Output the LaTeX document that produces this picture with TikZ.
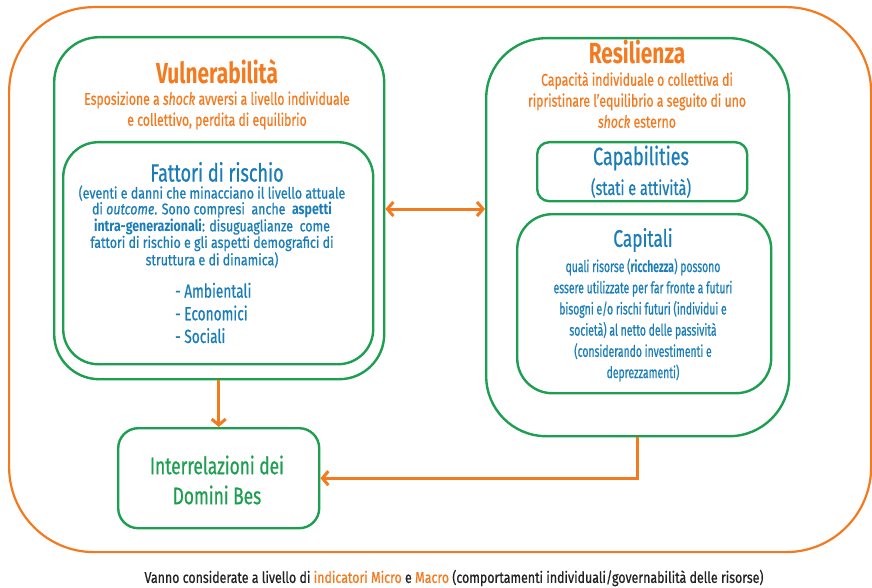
\documentclass[tikz,border=0pt]{standalone}
\usepackage{fontspec}
\setmainfont{Fira Sans}[FakeStretch=0.72, UprightFeatures={FakeBold=0.7}, ItalicFeatures={FakeBold=0.7}]
\newfontfamily\wfont{Fira Sans}[FakeStretch=0.8, UprightFeatures={FakeBold=0.7}, ItalicFeatures={FakeBold=0.7}]
\newfontfamily\nfont{Fira Sans}[FakeStretch=0.65, UprightFeatures={FakeBold=0.7}, ItalicFeatures={FakeBold=0.7}]
\usetikzlibrary{arrows.meta}
\definecolor{bor}{HTML}{F47A20}
\definecolor{bgr}{HTML}{1E9E50}
\definecolor{bbl}{HTML}{1A7DB8}
\definecolor{ftx}{HTML}{222222}
\begin{document}
\begin{tikzpicture}[x=1pt,y=-1pt,
  gbox/.style={draw=bgr, line width=2.4pt, inner sep=0pt, anchor=north west},
  obox/.style={draw=bor, line width=2.2pt, inner sep=0pt, anchor=north west},
  arr/.style={draw=bor, line width=3pt, -{Straight Barb[length=6pt,width=14pt]}},
  darr/.style={draw=bor, line width=3pt, {Straight Barb[length=6pt,width=14pt]}-{Straight Barb[length=6pt,width=14pt]}},
  txt/.style={inner sep=0pt, align=center},
  bigtitle/.style={txt, text=bor, font=\bfseries\fontsize{29}{30}\selectfont},
  osub/.style={txt, text=bor, font=\fontsize{17}{21}\selectfont},
  btitle/.style={txt, text=bbl, font=\fontsize{25}{27}\selectfont},
  btext/.style={txt, text=bbl, font=\wfont\fontsize{15.5}{14.3}\selectfont},
  ctext/.style={txt, text=bbl, font=\nfont\fontsize{16}{21.2}\selectfont},
]
\useasboundingbox (0,0) rectangle (872,588);
% boxes
\node[obox, rounded corners=85pt, minimum width=862pt, minimum height=545pt] (outer) at (8,6) {};
\node[gbox, rounded corners=45pt, minimum width=330pt, minimum height=342pt] (vul) at (53,36) {};
\node[gbox, rounded corners=35pt, minimum width=310pt, minimum height=222pt] (fat) at (62,141) {};
\node[gbox, rounded corners=60pt, minimum width=303pt, minimum height=398pt] (res) at (485,37) {};
\node[gbox, rounded corners=12pt, minimum width=210pt, minimum height=59pt] (cap) at (536,141) {};
\node[gbox, rounded corners=35pt, minimum width=254pt, minimum height=179pt] (capi) at (516,213) {};
\node[gbox, rounded corners=20pt, minimum width=201pt, minimum height=100pt] (inter) at (117,427) {};
% texts
\node[bigtitle] (vult) at (217,72) {Vulnerabilità};
\node[osub] (vuls) at (217,110.5) {Esposizione a \textit{shock} avversi a livello individuale\\e collettivo, perdita di equilibrio};
\node[btitle] (fatt) at (217,172) {Fattori di rischio};
\node[btext] (fatp) at (212,226.5) {(eventi e danni che minacciano il livello attuale\\
di \textit{outcome}. Sono compresi\ \ anche\ \ \textbf{aspetti}\\
\textbf{intra-generazionali}: disuguaglianze\ \ come\\
fattori di rischio e gli aspetti demografici di\\
struttura e di dinamica)};
\node[txt, align=left, anchor=west, text=bbl, font=\fontsize{19}{22.7}\selectfont] (fatl) at (175,313) {- Ambientali\\- Economici\\- Sociali};
\node[bigtitle] (rest) at (637,52) {Resilienza};
\node[osub] (ress) at (637,100) {Capacità individuale o collettiva di\\ripristinare l'equilibrio a seguito di uno\\\textit{shock} esterno};
\node[btitle] (capt) at (641,158) {Capabilities};
\node[txt, text=bbl, font=\fontsize{20}{22}\selectfont] (caps) at (641,188) {(stati e attività)};
\node[btitle, font=\fontsize{24}{26}\selectfont] (capit) at (643,240) {Capitali};
\node[ctext] (capib) at (643,320) {quali risorse (\textbf{ricchezza}) possono\\
essere utilizzate per far fronte a futuri\\
bisogni e/o rischi futuri (individui e\\
società) al netto delle passività\\
(considerando investimenti e\\
deprezzamenti)};
\node[txt, text=bgr, font=\fontsize{24}{30}\selectfont] (intert) at (217,480) {Interrelazioni dei\\Domini Bes};
\node[txt, text=ftx, font=\wfont\fontsize{15.5}{16}\selectfont] (foot) at (454,578) {Vanno considerate a livello di \textcolor{bor}{indicatori Micro} e \textcolor{bor}{Macro} (comportamenti individuali/governabilità delle risorse)};
% connectors
\coordinate (ay) at (0,209);
\draw[darr] (vul.east |- ay) -- (res.west |- ay);
\draw[arr] (vul.south -| inter.north) -- (inter.north);
\draw[arr] (res.south) |- (inter.east);
\end{tikzpicture}
\end{document}
